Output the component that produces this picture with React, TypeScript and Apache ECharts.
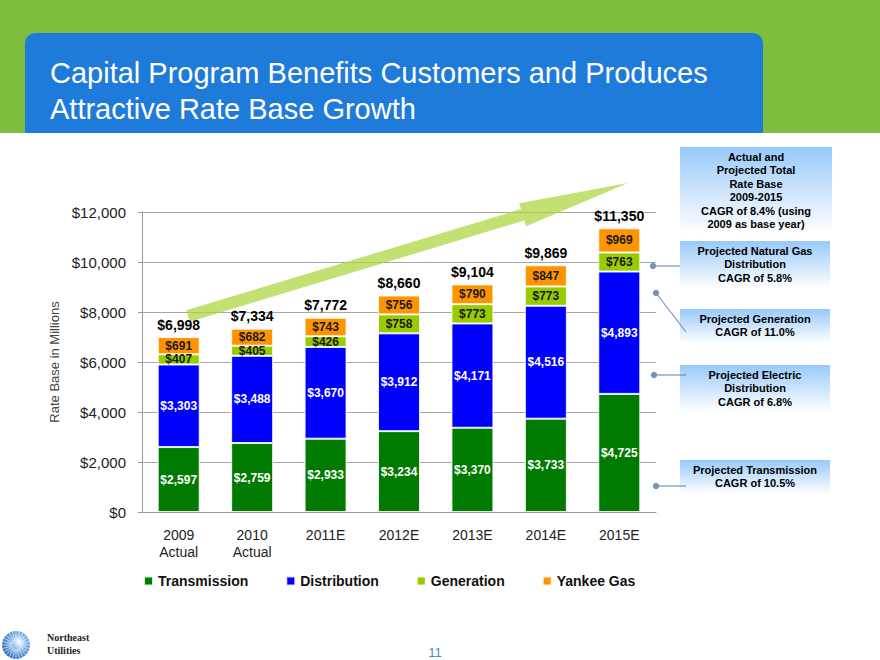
import React, { useEffect, useRef } from "react";
import * as echarts from "echarts";

const categories = ["2009\nActual", "2010\nActual", "2011E", "2012E", "2013E", "2014E", "2015E"];
const transmission = [2597, 2759, 2933, 3234, 3370, 3733, 4725];
const distribution = [3303, 3488, 3670, 3912, 4171, 4516, 4893];
const generation = [407, 405, 426, 758, 773, 773, 763];
const yankeeGas = [691, 682, 743, 756, 790, 847, 969];
const totals = [6998, 7334, 7772, 8660, 9104, 9869, 11350];
const yTicks = { min: 0, max: 12000, interval: 2000 };

const titleLines = ["Capital Program Benefits Customers and Produces", "Attractive Rate Base Growth"];
const callouts = [
  ["Actual and", "Projected Total", "Rate Base", "2009-2015", "CAGR of 8.4% (using", "2009 as base year)"],
  ["Projected Natural Gas", "Distribution", "CAGR of 5.8%"],
  ["Projected Generation", "CAGR of 11.0%"],
  ["Projected Electric", "Distribution", "CAGR of 6.8%"],
  ["Projected Transmission", "CAGR of 10.5%"],
];

const FONT = "'Liberation Sans', Arial, Helvetica, sans-serif";
const fmt = (v: number) => "$" + v.toLocaleString("en-US");

export default function App() {
  const ref = useRef<HTMLDivElement>(null);
  useEffect(() => {
    if (!ref.current) return;
    const chart = echarts.init(ref.current, null, { renderer: "svg" });

    const boxes = [
      { x: 680, y: 147, w: 152, h: 86 },
      { x: 680, y: 241, w: 150, h: 47 },
      { x: 680, y: 309, w: 150, h: 34 },
      { x: 680, y: 365, w: 150, h: 47 },
      { x: 680, y: 460, w: 150, h: 34 },
    ];
    const boxGraphics: any[] = [];
    boxes.forEach((b, i) => {
      boxGraphics.push({
        type: "rect",
        shape: { x: b.x, y: b.y, width: b.w, height: b.h },
        style: {
          fill: new echarts.graphic.LinearGradient(0, 0, 0, 1, [
            { offset: 0, color: "#98C9FA" },
            { offset: 1, color: "#FFFFFF" },
          ]),
        },
        z: 10,
      });
      boxGraphics.push({
        type: "text",
        x: b.x + b.w / 2,
        y: b.y + 3,
        style: {
          text: callouts[i].join("\n"),
          font: `bold 11px ${FONT}`,
          fill: "#000",
          align: "center",
          verticalAlign: "top",
          lineHeight: 13.5,
        },
        z: 11,
      });
    });

    const connectors = [
      { from: [653, 266], to: [680, 266] },
      { from: [656, 293], to: [686, 332] },
      { from: [654, 375], to: [686, 375] },
      { from: [656, 486], to: [686, 486] },
    ];
    const connGraphics: any[] = [];
    connectors.forEach((c) => {
      connGraphics.push({
        type: "line",
        shape: { x1: c.from[0], y1: c.from[1], x2: c.to[0], y2: c.to[1] },
        style: { stroke: "#7393BD", lineWidth: 1.2 },
        z: 12,
      });
      connGraphics.push({
        type: "circle",
        shape: { cx: c.from[0], cy: c.from[1], r: 3.2 },
        style: { fill: "#7393BD" },
        z: 12,
      });
    });

    // logo rays
    const rays: any[] = [];
    for (let k = 0; k < 24; k++) {
      const a = (k / 24) * Math.PI * 2;
      rays.push({
        type: "line",
        shape: {
          x1: 16 + Math.cos(a) * 4,
          y1: 645 + Math.sin(a) * 4,
          x2: 16 + Math.cos(a) * 14,
          y2: 645 + Math.sin(a) * 14,
        },
        style: { stroke: "rgba(255,255,255,0.7)", lineWidth: 0.8 },
        z: 21,
      });
    }

    const labelDark = { show: true, position: "inside", color: "#1a1a1a", fontWeight: "bold", fontSize: 12, fontFamily: FONT, formatter: (p: any) => fmt(p.value) };
    const labelLight = { ...labelDark, color: "#fff" };
    const barCommon = { type: "bar", stack: "rb", barWidth: 42, itemStyle: { borderColor: "rgba(255,255,255,0.85)", borderWidth: 1 } };

    chart.setOption({
      animation: false,
      textStyle: { fontFamily: FONT },
      grid: { left: 142, right: 224, top: 212, bottom: 148 },
      legend: {
        data: ["Transmission", "Distribution", "Generation", "Yankee Gas"],
        left: 143,
        top: 574,
        padding: 0,
        icon: "rect",
        itemWidth: 9,
        itemHeight: 9,
        itemGap: 37,
        textStyle: { fontSize: 14, fontWeight: "bold", color: "#111", fontFamily: FONT },
      },
      xAxis: {
        type: "category",
        data: categories,
        axisLine: { lineStyle: { color: "#999" } },
        axisTick: { show: false },
        axisLabel: { fontSize: 14, color: "#222", margin: 14, lineHeight: 17, fontFamily: FONT },
      },
      yAxis: {
        type: "value",
        min: yTicks.min,
        max: yTicks.max,
        interval: yTicks.interval,
        name: "Rate Base in Millions",
        nameLocation: "middle",
        nameGap: 74,
        nameTextStyle: { fontSize: 13, color: "#444", fontFamily: FONT },
        axisLine: { show: true, lineStyle: { color: "#999" } },
        axisTick: { show: true, length: 4, lineStyle: { color: "#999" } },
        splitLine: { lineStyle: { color: "#a6a6a6" } },
        axisLabel: { fontSize: 15, color: "#222", margin: 16, fontFamily: FONT, formatter: (v: number) => fmt(v) },
      },
      series: [
        { ...barCommon, name: "Transmission", data: transmission, itemStyle: { ...barCommon.itemStyle, color: "#007A00" }, label: labelLight },
        { ...barCommon, name: "Distribution", data: distribution, itemStyle: { ...barCommon.itemStyle, color: "#0000FF" }, label: labelLight },
        { ...barCommon, name: "Generation", data: generation, itemStyle: { ...barCommon.itemStyle, color: "#99CC00" }, label: labelDark },
        { ...barCommon, name: "Yankee Gas", data: yankeeGas, itemStyle: { ...barCommon.itemStyle, color: "#FF9400" }, label: labelDark },
        {
          type: "scatter",
          name: "Total",
          data: totals,
          symbolSize: 1,
          itemStyle: { color: "#ffffff", opacity: 0 },
          label: { show: true, position: "top", distance: 5, color: "#000", fontWeight: "bold", fontSize: 14, fontFamily: FONT, opacity: 1, formatter: (p: any) => fmt(p.value) },
          z: 5,
        },
      ],
      graphic: [
        { type: "rect", shape: { x: 0, y: 0, width: 880, height: 133 }, style: { fill: "#7DBE3E" }, z: 1 },
        { type: "rect", shape: { x: 25, y: 33, width: 738, height: 100, r: [10, 10, 0, 0] }, style: { fill: "#1F7BDA" }, z: 2 },
        {
          type: "text",
          x: 50,
          y: 55,
          style: { text: titleLines.join("\n"), font: `29px ${FONT}`, fill: "#fff", lineHeight: 36, verticalAlign: "top" },
          z: 3,
        },
        {
          type: "polygon",
          shape: {
            points: [
              [186.3, 310.3],
              [521, 209.1],
              [519.2, 203.3],
              [628, 183],
              [526.2, 226.3],
              [524.4, 220.5],
              [189.7, 321.7],
            ],
          },
          style: { fill: "rgba(170,214,60,0.72)" },
          z: 4,
        },
        ...boxGraphics,
        ...connGraphics,
        {
          type: "circle",
          shape: { cx: 16, cy: 645, r: 14 },
          style: {
            fill: new echarts.graphic.RadialGradient(0.6, 0.4, 0.7, [
              { offset: 0, color: "#ffffff" },
              { offset: 0.35, color: "#8FC0EE" },
              { offset: 1, color: "#1A5FB4" },
            ]),
          },
          z: 20,
        },
        ...rays,
        {
          type: "text",
          x: 47,
          y: 631,
          style: { text: "Northeast\nUtilities", font: `bold 10px 'Liberation Serif', 'DejaVu Serif', serif`, fill: "#222", lineHeight: 13, verticalAlign: "top" },
          z: 20,
        },
        {
          type: "text",
          x: 435,
          y: 652,
          style: { text: "11", font: `13px ${FONT}`, fill: "#3C8BDB", align: "center", verticalAlign: "middle" },
          z: 20,
        },
      ],
    });
    return () => chart.dispose();
  }, []);
  return <div ref={ref} style={{ position: "fixed", left: 0, top: 0, width: 880, height: 660, background: "#fff" }} />;
}
